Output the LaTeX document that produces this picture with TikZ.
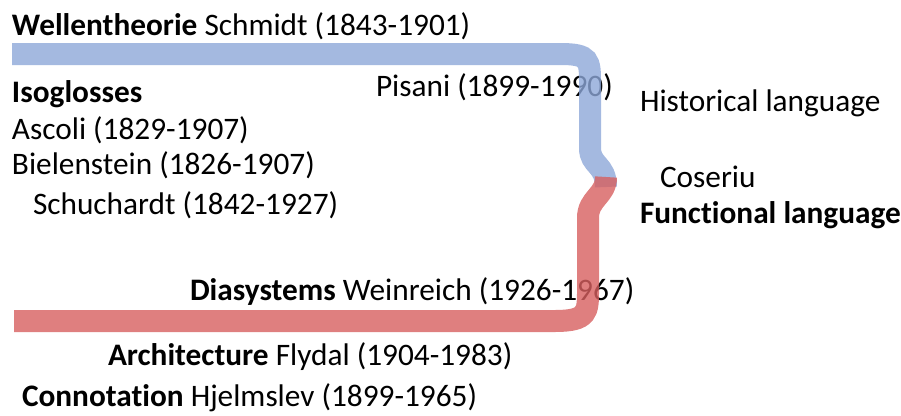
\documentclass[tikz,border=0pt]{standalone}
\usepackage{fontspec}
\setmainfont[Ligatures=NoCommon]{Carlito}
\definecolor{bandblue}{RGB}{141,167,216}
\definecolor{bandred}{RGB}{215,95,95}
\begin{document}
\begin{tikzpicture}[x=1pt,y=-1pt,
  lbl/.style={anchor=base west,inner sep=0pt,outer sep=0pt,font=\fontsize{31.3}{36}\selectfont},
  band/.style={line width=22pt,draw opacity=0.8},
]
\useasboundingbox (0,0) rectangle (901,415);
% texts
\node[lbl] (well) at (12,35) {\textbf{Wellentheorie} Schmidt (1843-1901)};
\node[lbl] (iso) at (12,102) {\textbf{Isoglosses}};
\node[lbl] (asc) at (12,139) {Ascoli (1829-1907)};
\node[lbl] (biel) at (12,174) {Bielenstein (1826-1907)};
\node[lbl] (schu) at (33,214) {Schuchardt (1842-1927)};
\node[lbl] (pis) at (376,96) {Pisani (1899-1990)};
\node[lbl] (hist) at (640,111) {Historical language};
\node[lbl] (cos) at (660,187) {Coseriu};
\node[lbl] (func) at (640,223) {\textbf{Functional language}};
\node[lbl] (dia) at (190,300) {\textbf{Diasystems} Weinreich (1926-1967)};
\node[lbl] (arch) at (108,365) {\textbf{Architecture} Flydal (1904-1983)};
\node[lbl] (conn) at (22,406) {\textbf{Connotation} Hjelmslev (1899-1965)};
% band end points
\coordinate (bstart) at (12,54);
\coordinate (bend) at (606,187);
\coordinate (rend) at (606,177);
\coordinate (rstart) at (14,321);
% blue band
\draw[band,bandblue] (bstart) -- (560,54) .. controls (590,54) and (590,60) .. (590,84)
  -- (590,148) .. controls (590,166) and (606,164) .. (bend);
% red band
\draw[band,bandred] (rstart) -- (555,321) .. controls (588,321) and (588,312) .. (588,290)
  -- (588,218) .. controls (588,198) and (606,196) .. (rend);
\end{tikzpicture}
\end{document}
